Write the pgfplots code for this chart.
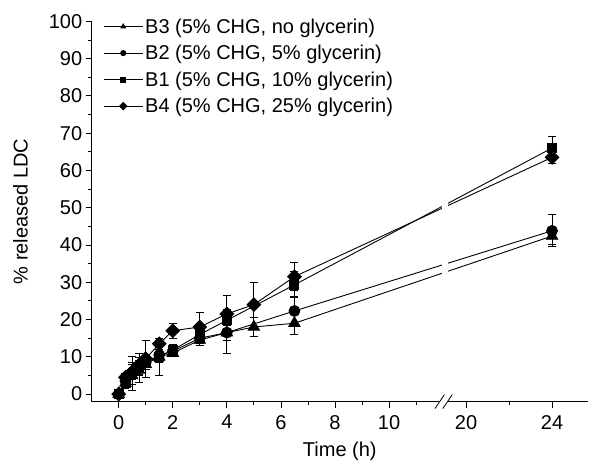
\documentclass[border=0pt]{standalone}
\usepackage{pgfplots}
\pgfplotsset{compat=1.18}
\usepackage{fontspec}
\setmainfont{Liberation Sans}
\usetikzlibrary{calc}

% time axis is broken: 0-12 h linear, then 20-24 h compressed
% plot x for 20 h = 12.85, 22 h = 14.44, 24 h = 16.03
\pgfplotstableread{
t v e
0 0 0
0.25 3 0.8
0.5 5 1
0.75 6.5 1.2
1 8 1.5
1.5 10 1.5
2 11 1
3 14.5 1.5
4 16.5 2
5 18 2.5
6.5 19 3
16.03 42.4 2.2
}\bthree
\pgfplotstableread{
t v e
0 0 0
0.25 3.5 1
0.5 5.5 4.5
0.75 7 2
1 8.5 2
1.5 10.5 2
2 11.5 1.5
3 15 1.5
4 16.5 5.5
6.5 22.3 4
16.03 43.8 4.3
}\btwo
\pgfplotstableread{
t v e
0 0 0
0.25 3 1.5
0.5 5.5 3
0.75 7 4
1 8.5 2
1.5 10 5
2 11.8 1.5
3 16 1.5
4 19.8 3
6.5 29.3 3.5
16.03 66 3.2
}\bone
\pgfplotstableread{
t v e
0 0 0
0.25 4.5 1
0.5 6 2
0.75 7.8 2
1 9.5 4.9
1.5 13.5 1.5
2 17 2
3 18 4
4 21.5 5
5 24 6
6.5 31.5 3.7
16.03 63.5 1.5
}\bfour

\begin{document}
\begin{tikzpicture}
\begin{axis}[
    scale only axis,
    width=496.5pt, height=380.4pt,
    xmin=-1, xmax=17.36, ymin=-2, ymax=100,
    clip=false,
    axis x line=bottom, axis y line=left,
    axis line style={-, line width=0.9pt, black},
    tick align=outside,
    major tick length=6pt, minor tick length=3.5pt,
    tick style={line width=0.8pt, black},
    xtick={0,2,4,6,8,10,12.85,16.03},
    xticklabels={0,2,4,6,8,10,20,24},
    minor xtick={1,3,5,7,9,11,14.44},
    ytick={0,10,...,100},
    minor ytick={5,15,...,95},
    font=\fontsize{20}{24}\selectfont,
    /pgf/number format/assume math mode=true,
    xticklabel style={yshift=-4pt},
    xlabel={Time (h)},
    xlabel style={yshift=-6pt},
    ylabel={\% released LDC},
    ylabel style={yshift=14pt},
    error bars/y dir=both, error bars/y explicit,
    error bars/error bar style={line width=0.9pt, black},
    error bars/error mark options={rotate=90, mark size=4pt, line width=0.9pt, black},
    legend style={at={(rel axis cs:0.017,1.018)}, anchor=north west,
        draw=none, fill=none, font=\fontsize{20}{24}\selectfont,
        row sep=6.5pt},
    legend cell align=left,
    legend image code/.code={
        \draw[mark repeat=2, mark phase=2, #1, mark size=2.6pt]
        plot coordinates {(0pt,0pt) (19.5pt,0pt) (39pt,0pt)};
    },
]
\addplot[black, line width=0.9pt, mark=triangle*, mark size=6.5pt, mark options={solid, fill=black}]
    table[x=t, y=v, y error=e] {\bthree};
\addlegendentry{B3 (5\% CHG, no glycerin)}
\addplot[black, line width=0.9pt, mark=*, mark size=5.4pt, mark options={solid, fill=black}]
    table[x=t, y=v, y error=e] {\btwo};
\addlegendentry{B2 (5\% CHG, 5\% glycerin)}
\addplot[black, line width=0.9pt, mark=square*, mark size=4.5pt, mark options={solid, fill=black}]
    table[x=t, y=v, y error=e] {\bone};
\addlegendentry{B1 (5\% CHG, 10\% glycerin)}
\addplot[black, line width=0.9pt, mark=square*, mark size=4.8pt, mark options={solid, fill=black, rotate=45}]
    table[x=t, y=v, y error=e] {\bfour};
\addlegendentry{B4 (5\% CHG, 25\% glycerin)}

% x axis line, drawn again so it shows clearly
\draw[line width=1.4pt, black] (rel axis cs:0,0) -- (rel axis cs:1,0);
% break marks
\fill[white] (axis cs:11.95,3) rectangle (axis cs:12.19,75);
\fill[white] ([yshift=-2pt]axis cs:11.86,-2) rectangle ([yshift=2pt]axis cs:12.18,-2);
\draw[line width=0.8pt] ([yshift=-7pt]axis cs:11.70,-2) -- ([yshift=7pt]axis cs:12.05,-2);
\draw[line width=0.8pt] ([yshift=-7pt]axis cs:11.99,-2) -- ([yshift=7pt]axis cs:12.34,-2);

\coordinate (bl) at (rel axis cs:0,0);
\coordinate (tr) at (rel axis cs:1,1);
\end{axis}
\pgfresetboundingbox
\path[use as bounding box] ($(bl)+(-91.7pt,-61.3pt)$) rectangle ($(tr)+(2pt,21.3pt)$);
\end{tikzpicture}
\end{document}
